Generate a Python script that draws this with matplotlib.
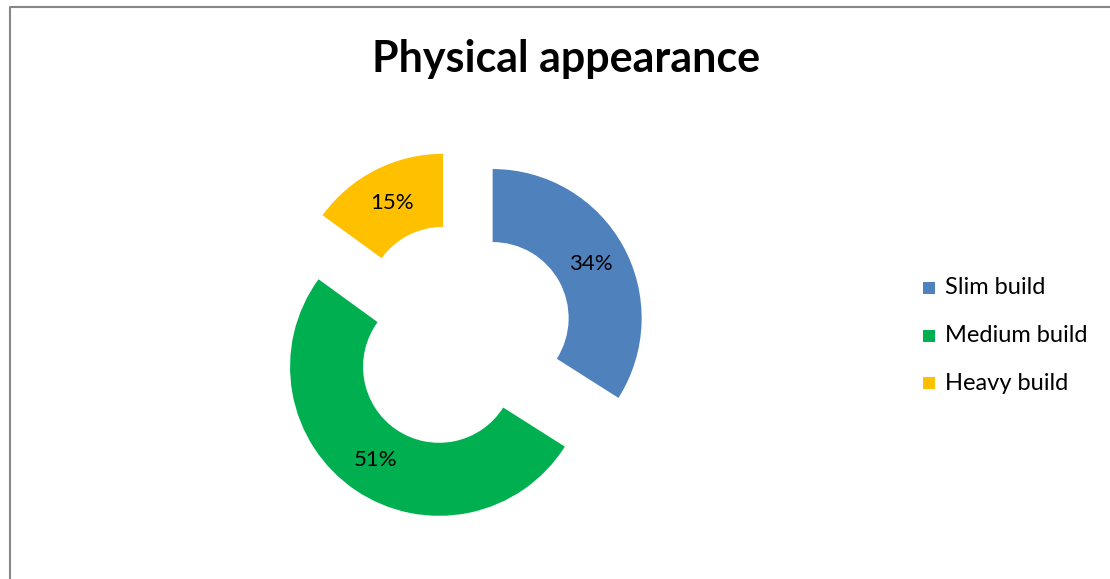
import matplotlib
matplotlib.use("Agg")
import matplotlib.pyplot as plt
from matplotlib.patches import Rectangle
from matplotlib.lines import Line2D

categories = ["Slim build", "Medium build", "Heavy build"]
shares = [34, 51, 15]
colors = ["#4f81bd", "#00b050", "#ffc000"]

plt.rcParams["font.family"] = ["Lato", "DejaVu Sans"]

W, H = 1110, 579
fig = plt.figure(figsize=(W / 100, H / 100), dpi=100)

# donut centre and radius in pixels
cx, cy, R = 460, 336, 149
ax = fig.add_axes([0, 0, 1, 1])
ax.axis("off")

ax.pie(shares, colors=colors, startangle=90, counterclock=False, radius=1,
       explode=[0.25] * 3, wedgeprops=dict(width=0.49, linewidth=0),
       autopct="%1.0f%%", pctdistance=0.755,
       textprops=dict(fontsize=16, color="black"))
ax.set_xlim(-cx / R, (W - cx) / R)
ax.set_ylim(-(H - cy) / R, cy / R)
ax.set_aspect("auto")

# chart frame
fig.add_artist(Line2D([10 / W, 10 / W, 1], [0, 1 - 7 / H, 1 - 7 / H],
                      transform=fig.transFigure, color="#878787", lw=1.5))

fig.text(566 / W, 1 - 59 / H, "Physical appearance", ha="center", va="center",
         fontsize=31, fontweight="bold")

# legend
for i, (name, c) in enumerate(zip(categories, colors)):
    y = 288 + 47.5 * i
    fig.add_artist(Rectangle((923 / W, 1 - (y + 6) / H), 12 / W, 12 / H,
                             transform=fig.transFigure, color=c, lw=0))
    fig.text(945 / W, 1 - y / H, name, ha="left", va="center", fontsize=17)

fig.savefig("out.png", dpi=100)
